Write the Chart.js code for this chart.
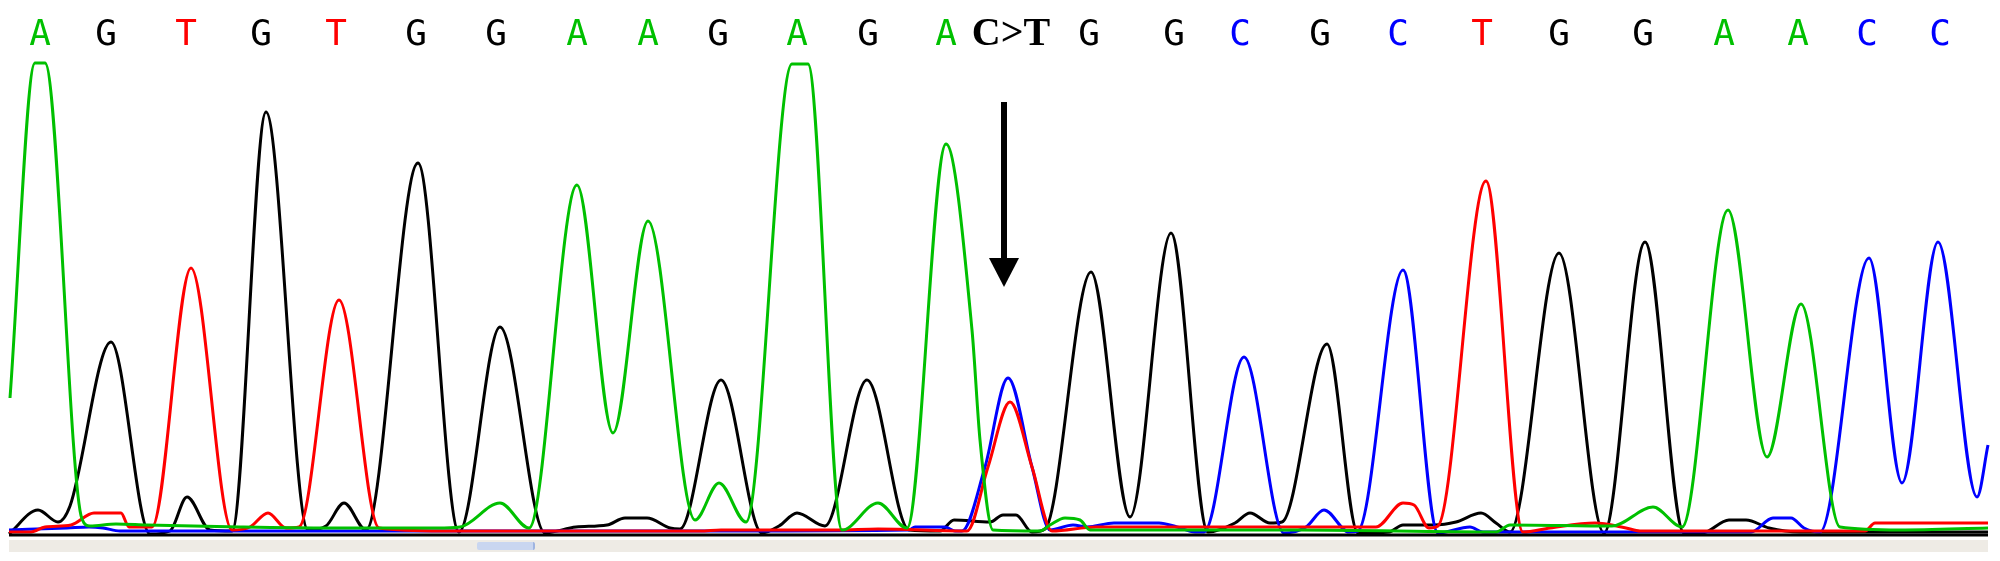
<!DOCTYPE html>
<html>
<head>
<meta charset="utf-8">
<title>Chromatogram C>T</title>
<script src="https://cdn.jsdelivr.net/npm/chart.js"></script>
<style>
  body { margin: 0; background: #fff; }
  #wrap { position: relative; width: 2000px; height: 561px; }
  #scroll { position: absolute; left: 9px; top: 540px; width: 1979px; height: 12px; background: #eeebe5; }
  #thumb { position: absolute; left: 468px; top: 2px; width: 56px; height: 8px; background: #c9d6f0; border-right: 2px solid #9fb4e0; border-radius: 2px; }
</style>
</head>
<body>
<div id="wrap">
  <canvas id="myChart" width="2000" height="561"></canvas>
  <div id="scroll"><div id="thumb"></div></div>
</div>
<script>
// base calls across the top, with their scan positions
const baseCalls = ['A','G','T','G','T','G','G','A','A','G','A','G','A','C>T','G','G','C','G','C','T','G','G','A','A','C','C'];
const basePos = [40,106,186,261,336,416,496,577,648,718,797,868,946,1011,1089,1174,1240,1320,1398,1482,1559,1643,1724,1798,1867,1940];

// traces: [scan position, signal]
const traceA = [[10,136],[35,471],[45,471],[82,15],[90,8],[116,10],[147,9],[240,7],[330,6],[437,6],[460,7],[500,31],[529,6],
  [577,349],[613,101],[648,313],[695,14],[719,51],[746,12],[792,470],[808,470],[842,4],[878,31],[907,6],
  [946,390],[972,204],[980,94],[993,4],[1040,3],[1050,9],[1065,16],[1080,14],[1090,4],[1300,4],[1496,2],[1510,9],[1612,8],
  [1653,27],[1682,7],[1728,324],[1767,77],[1801,230],[1840,7],[1900,4],[1988,6]];
const traceG = [[9,0],[38,24],[58,12],[70,28],[111,192],[150,0],[170,3],[187,37],[210,4],[232,3],[266,422],[308,4],
  [326,8],[344,31],[366,4],[418,371],[459,2],[500,207],[545,1],[576,7],[607,9],[625,16],[647,16],[670,6],
  [680,5],[721,154],[762,1],[779,8],[797,21],[825,8],[867,154],[909,4],[940,3],[954,14],[990,12],[1003,19],[1016,19],[1032,2],
  [1045,5],[1091,262],[1130,17],[1171,301],[1208,2],[1235,11],[1250,21],[1270,11],[1282,12],[1327,190],[1358,1],
  [1389,2],[1403,9],[1434,9],[1456,12],[1481,21],[1496,11],[1510,2],[1559,281],[1604,1],[1645,292],[1684,1],
  [1702,1],[1729,14],[1746,14],[1769,6],[1800,2],[1988,2]];
const traceT = [[9,2],[31,2],[45,7],[71,9],[94,21],[121,21],[129,7],[152,7],[191,266],[232,4],[250,7],[268,21],[286,6],
  [299,7],[339,234],[379,6],[442,3],[700,3],[721,4],[838,4],[878,5],[967,3],[988,67],[1010,132],[1032,67],[1052,3],
  [1096,7],[1376,7],[1403,31],[1414,29],[1429,6],[1438,8],[1486,353],[1523,2],[1550,6],[1595,11],[1626,6],[1640,3],
  [1865,3],[1875,11],[1988,11]];
const traceC = [[9,4],[67,6],[89,7],[103,6],[120,3],[730,3],[909,4],[915,7],[945,7],[955,3],
  [962,3],[985,67],[1008,156],[1032,67],[1050,4],[1073,9],[1087,7],[1114,11],[1159,11],[1177,7],[1195,2],
  [1204,2],[1244,177],[1284,1],[1306,7],[1324,24],[1349,2],[1358,3],[1403,264],[1438,1],[1470,7],[1483,2],
  [1751,2],[1773,16],[1791,16],[1804,6],[1820,2],[1869,276],[1902,51],[1938,292],[1977,37],[1988,89]];
const baseline = [[9,-1],[1988,-1]];

// arrow over the mutated base: scan position, top signal, tip signal
const arrowX = 1004, arrowTop = 432, arrowTip = 247;

const colors = { A: 'rgb(0,192,0)', C: '#0000ff', G: '#000000', T: '#ff0000' };

const toPts = arr => arr.map(p => ({ x: p[0], y: p[1] }));

const overlay = {
  id: 'overlay',
  afterDatasetsDraw(chart) {
    const { ctx, scales: { x, y } } = chart;
    ctx.save();
    ctx.textAlign = 'center';
    ctx.textBaseline = 'alphabetic';
    baseCalls.forEach((b, i) => {
      const px = x.getPixelForValue(basePos[i]);
      if (b.length > 1) {
        ctx.font = 'bold 40px "Liberation Serif"';
        ctx.fillStyle = '#000';
      } else {
        ctx.font = '36px "DejaVu Sans Mono"';
        ctx.fillStyle = colors[b];
      }
      ctx.fillText(b, px, 45);
    });
    // arrow
    const ax = x.getPixelForValue(arrowX);
    const top = y.getPixelForValue(arrowTop);
    const tip = y.getPixelForValue(arrowTip);
    ctx.fillStyle = '#000';
    ctx.fillRect(ax - 3, top, 6, tip - top - 25);
    ctx.beginPath();
    ctx.moveTo(ax - 15, tip - 29);
    ctx.lineTo(ax + 15, tip - 29);
    ctx.lineTo(ax, tip);
    ctx.closePath();
    ctx.fill();
    ctx.restore();
  }
};

function trace(label, arr, color, width) {
  return {
    label: label,
    data: toPts(arr),
    borderColor: color,
    borderWidth: width,
    pointRadius: 0,
    fill: false,
    cubicInterpolationMode: 'monotone'
  };
}

new Chart(document.getElementById('myChart'), {
  type: 'line',
  data: {
    datasets: [
      trace('baseline', baseline, '#000', 3),
      trace('A', traceA, colors.A, 3),
      trace('T', traceT, colors.T, 3),
      trace('C', traceC, colors.C, 3),
      trace('G', traceG, colors.G, 3)
    ]
  },
  options: {
    responsive: false,
    animation: false,
    layout: { padding: 0 },
    plugins: { legend: { display: false }, tooltip: { enabled: false } },
    scales: {
      x: { type: 'linear', min: 0, max: 2000, display: false },
      y: { min: -27, max: 534, display: false }
    }
  },
  plugins: [overlay]
});
</script>
</body>
</html>
